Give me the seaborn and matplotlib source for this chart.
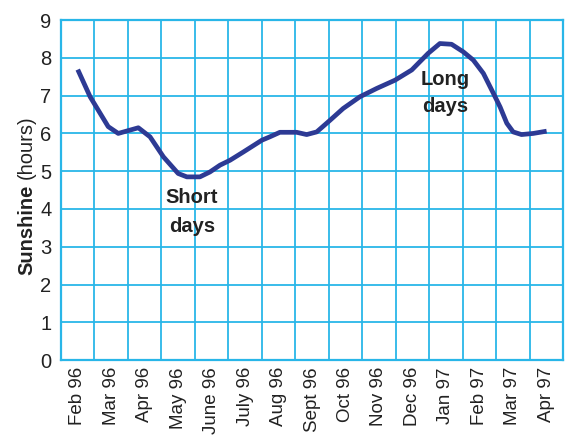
import numpy as np
import pandas as pd
import matplotlib
matplotlib.use('Agg')
import matplotlib.pyplot as plt
import seaborn as sns

# months as tick labels (placed at the centre of each monthly cell)
months = ['Feb 96', 'Mar 96', 'Apr 96', 'May 96', 'June 96', 'July 96', 'Aug 96',
          'Sept 96', 'Oct 96', 'Nov 96', 'Dec 96', 'Jan 97', 'Feb 97', 'Mar 97', 'Apr 97']

# sunshine curve (x in month units, 0 = start of Feb 96)
month_pos = [0.5, 0.87, 1.41, 1.71, 2.31, 2.66, 3.06, 3.5, 3.76, 4.15, 4.45, 4.75,
             5.05, 5.45, 6.0, 6.24, 6.54, 7.04, 7.34, 7.64, 8.04, 8.43, 8.93, 9.43,
             9.98, 10.48, 10.97, 11.32, 11.67, 12.02, 12.32, 12.62, 12.92, 13.12,
             13.32, 13.51, 13.76, 14.11, 14.51]
sunshine = [7.69, 6.97, 6.18, 6.0, 6.15, 5.91, 5.38, 4.94, 4.85, 4.85, 4.98, 5.16,
            5.29, 5.51, 5.82, 5.91, 6.03, 6.03, 5.97, 6.04, 6.35, 6.66, 6.97, 7.19,
            7.41, 7.68, 8.12, 8.38, 8.36, 8.16, 7.94, 7.59, 7.06, 6.70,
            6.27, 6.04, 5.97, 6.0, 6.06]

df = pd.DataFrame({'month': month_pos, 'hours': sunshine})

sns.set_style('white')
plt.rcParams['font.family'] = ['Liberation Sans', 'DejaVu Sans']

grid_col = '#29b6e8'
line_col = '#2d3a94'
text_col = '#222222'

fig = plt.figure(figsize=(5.65, 4.37), dpi=100)
ax = fig.add_axes([0.108, 0.176, 0.8885, 0.778])

sns.lineplot(data=df, x='month', y='hours', ax=ax, color=line_col, linewidth=3.4,
             solid_joinstyle='round', solid_capstyle='butt')

ax.set_xlim(0, 15)
ax.set_ylim(0, 9)
ax.set_xticks(np.arange(0, 16))
ax.set_xticklabels([])
ax.set_xticks(np.arange(15) + 0.5, minor=True)
ax.set_xticklabels(months, minor=True, rotation=90, fontsize=13.5, color=text_col)
ax.set_yticks(range(10))
ax.set_yticklabels([str(i) for i in range(10)], fontsize=14.5, color=text_col)
ax.tick_params(axis='both', which='both', length=0)
ax.tick_params(axis='x', which='minor', pad=5)
ax.tick_params(axis='y', pad=7)

ax.grid(True, which='major', color=grid_col, linewidth=1.3)
ax.set_axisbelow(True)
for s in ax.spines.values():
    s.set_color(grid_col)
    s.set_linewidth(1.6)

ax.set_xlabel('')
ax.set_ylabel('')

# y label: bold "Sunshine" followed by regular "(hours)"
renderer = fig.canvas.get_renderer()
t1 = fig.text(0.057, 0.371, 'Sunshine', rotation=90, rotation_mode='anchor',
              ha='left', va='baseline', fontsize=14.5, fontweight='bold', color=text_col)
bb = t1.get_window_extent(renderer)
fig_h = fig.get_size_inches()[1] * fig.dpi
fig.text(0.057, (bb.y1 + 5) / fig_h, '(hours)', rotation=90, rotation_mode='anchor',
         ha='left', va='baseline', fontsize=14.5, color=text_col)

ax.text(3.91, 3.92, 'Short\ndays', ha='center', va='center', fontsize=14.5,
        fontweight='bold', color=text_col, linespacing=1.65)
ax.text(11.47, 7.07, 'Long\ndays', ha='center', va='center', fontsize=14.5,
        fontweight='bold', color=text_col, linespacing=1.55)

fig.savefig('out.png', dpi=100)
